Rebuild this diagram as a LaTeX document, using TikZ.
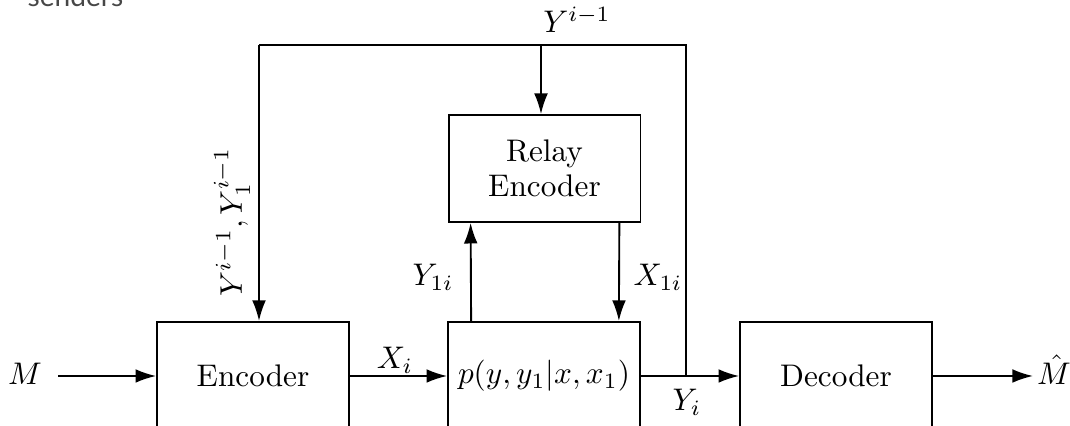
\documentclass[tikz,border=0pt]{standalone}
\usepackage{fontspec}
\newfontfamily\capfont{Lato}
\usetikzlibrary{arrows.meta,calc}
\tikzset{
  blk/.style={draw,line width=0.6pt,minimum width=61.4pt,minimum height=34.6pt,inner sep=0pt,align=center},
  wire/.style={line width=0.6pt},
  arr/.style={line width=0.6pt,-{Latex[length=6.6pt,width=4.4pt]}},
  lbl/.style={inner sep=0pt}
}
\begin{document}
\begin{tikzpicture}[x=0.32pt,y=-0.32pt]
\useasboundingbox (0,0) rectangle (1070,426);
\clip (0,0) rectangle (1070,426);
\node[lbl,anchor=base west,text=black!72,font=\capfont\fontsize{9pt}{11pt}\selectfont] (cap) at (27,7) {senders};
% blocks
\node[blk] (enc) at (253,376) {Encoder};
\node[blk] (chan) at (544,376) {$p(y,y_1|x,x_1)$};
\node[blk] (dec) at (836,376) {Decoder};
\node[blk,minimum height=34.2pt] (relay) at (544.5,168.5) {Relay\\[-1pt]Encoder};
% coordinates
\coordinate (min) at (58,376);
\coordinate (mout) at (1033,376);
\coordinate (tap) at (686,376);
\coordinate (tl) at (259,45);
\coordinate (tr) at (686,45);
\coordinate (tm) at (541,45);
% labels
\node[lbl] (M) at (25,374) {$M$};
\node[lbl] (Mh) at (1054,370) {$\hat{M}$};
\node[lbl] (Xi) at (395,360) {$X_i$};
\node[lbl] (Yi) at (687,402) {$Y_i$};
\node[lbl] (Y1i) at (433,277) {$Y_{1i}$};
\node[lbl] (X1i) at (658,277) {$X_{1i}$};
\node[lbl] (Ytop) at (577,20) {$Y^{i-1}$};
\node[lbl,rotate=90] (Yfb) at (232,222) {$Y^{i-1}, Y_1^{i-1}$};
% connectors
\draw[arr] (min) -- (enc.west);
\draw[arr] (enc.east) -- (chan.west);
\draw[arr] (chan.east) -- (dec.west);
\draw[arr] (dec.east) -- (mout);
\draw[wire] (tap) -- (tr) -- (tl);
\draw[arr] (tl) -- (tl |- enc.north);
\draw[arr] (tm) -- (tm |- relay.north);
\draw[arr] ([xshift=24*0.32pt]chan.north west) -- ([xshift=23*0.32pt]relay.south west);
\draw[arr] ([xshift=-22*0.32pt]relay.south east) -- ([xshift=-22*0.32pt]chan.north east);
\end{tikzpicture}
\end{document}
